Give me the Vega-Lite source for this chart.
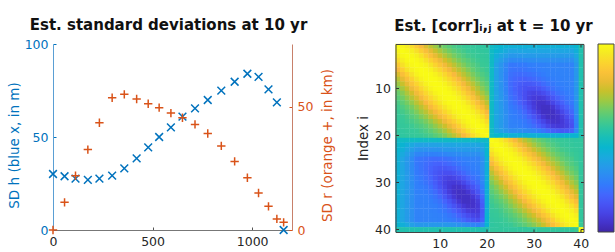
{
"$schema":"https://vega.github.io/schema/vega-lite/v6.json",
"background":"white",
"padding":{"left":7,"top":18,"right":0,"bottom":0},
"spacing":22.5,
"config":{"font":"DejaVu Sans","view":{"stroke":null},"axis":{"labelFontSize":12.5,"titleFontSize":13.5,"titleFontWeight":"normal","grid":false,"tickSize":-3,"labelPadding":8},"title":{"fontSize":15,"fontWeight":"bold","color":"#111"}},
"datasets":{
"sd":[{"x":0,"h":30.1,"r":0},{"x":58,"h":28.9,"r":11.2},{"x":113,"h":27.6,"r":22.0},{"x":175,"h":26.9,"r":32.6},{"x":233,"h":27.6,"r":43.5},{"x":297,"h":29.2,"r":53.6},{"x":358,"h":33.1,"r":55.0},{"x":420,"h":38.5,"r":53.1},{"x":478,"h":44.4,"r":51.2},{"x":533,"h":50.0,"r":49.6},{"x":592,"h":55.2,"r":47.4},{"x":650,"h":61.0,"r":45.5},{"x":713,"h":65.4,"r":42.8},{"x":777,"h":69.9,"r":39.1},{"x":845,"h":74.9,"r":34.1},{"x":912,"h":79.7,"r":27.8},{"x":976,"h":84.0,"r":21.2},{"x":1032,"h":82.3,"r":15.0},{"x":1082,"h":75.6,"r":9.6},{"x":1124,"h":68.6,"r":4.5},{"x":1158,"h":0,"r":3.1}],
"corr":[
{"i":1,"j":1,"c":1},{"i":1,"j":2,"c":0.97},{"i":1,"j":3,"c":0.92},{"i":1,"j":4,"c":0.84},{"i":1,"j":5,"c":0.75},{"i":1,"j":6,"c":0.65},{"i":1,"j":7,"c":0.56},{"i":1,"j":8,"c":0.47},{"i":1,"j":9,"c":0.40},{"i":1,"j":10,"c":0.33},{"i":1,"j":11,"c":0.28},{"i":1,"j":12,"c":0.24},{"i":1,"j":13,"c":0.20},{"i":1,"j":14,"c":0.17},{"i":1,"j":15,"c":0.15},{"i":1,"j":16,"c":0.14},{"i":1,"j":17,"c":0.13},{"i":1,"j":18,"c":0.12},{"i":1,"j":19,"c":0.11},{"i":1,"j":20,"c":0.11},{"i":1,"j":21,"c":-0.05},{"i":1,"j":22,"c":-0.08},{"i":1,"j":23,"c":-0.11},{"i":1,"j":24,"c":-0.13},{"i":1,"j":25,"c":-0.15},{"i":1,"j":26,"c":-0.15},{"i":1,"j":27,"c":-0.15},{"i":1,"j":28,"c":-0.15},{"i":1,"j":29,"c":-0.15},{"i":1,"j":30,"c":-0.15},{"i":1,"j":31,"c":-0.15},{"i":1,"j":32,"c":-0.15},{"i":1,"j":33,"c":-0.15},{"i":1,"j":34,"c":-0.15},{"i":1,"j":35,"c":-0.15},{"i":1,"j":36,"c":-0.15},{"i":1,"j":37,"c":-0.15},{"i":1,"j":38,"c":-0.15},{"i":1,"j":39,"c":-0.11},{"i":1,"j":40,"c":0.05},
{"i":2,"j":1,"c":0.97},{"i":2,"j":2,"c":1},{"i":2,"j":3,"c":0.98},{"i":2,"j":4,"c":0.93},{"i":2,"j":5,"c":0.86},{"i":2,"j":6,"c":0.77},{"i":2,"j":7,"c":0.68},{"i":2,"j":8,"c":0.59},{"i":2,"j":9,"c":0.50},{"i":2,"j":10,"c":0.42},{"i":2,"j":11,"c":0.35},{"i":2,"j":12,"c":0.30},{"i":2,"j":13,"c":0.25},{"i":2,"j":14,"c":0.21},{"i":2,"j":15,"c":0.18},{"i":2,"j":16,"c":0.15},{"i":2,"j":17,"c":0.14},{"i":2,"j":18,"c":0.13},{"i":2,"j":19,"c":0.12},{"i":2,"j":20,"c":0.11},{"i":2,"j":21,"c":-0.05},{"i":2,"j":22,"c":-0.12},{"i":2,"j":23,"c":-0.16},{"i":2,"j":24,"c":-0.20},{"i":2,"j":25,"c":-0.24},{"i":2,"j":26,"c":-0.24},{"i":2,"j":27,"c":-0.23},{"i":2,"j":28,"c":-0.23},{"i":2,"j":29,"c":-0.23},{"i":2,"j":30,"c":-0.23},{"i":2,"j":31,"c":-0.23},{"i":2,"j":32,"c":-0.23},{"i":2,"j":33,"c":-0.23},{"i":2,"j":34,"c":-0.23},{"i":2,"j":35,"c":-0.23},{"i":2,"j":36,"c":-0.23},{"i":2,"j":37,"c":-0.23},{"i":2,"j":38,"c":-0.23},{"i":2,"j":39,"c":-0.16},{"i":2,"j":40,"c":0.05},
{"i":3,"j":1,"c":0.92},{"i":3,"j":2,"c":0.98},{"i":3,"j":3,"c":1},{"i":3,"j":4,"c":0.98},{"i":3,"j":5,"c":0.94},{"i":3,"j":6,"c":0.87},{"i":3,"j":7,"c":0.78},{"i":3,"j":8,"c":0.69},{"i":3,"j":9,"c":0.60},{"i":3,"j":10,"c":0.51},{"i":3,"j":11,"c":0.44},{"i":3,"j":12,"c":0.37},{"i":3,"j":13,"c":0.31},{"i":3,"j":14,"c":0.26},{"i":3,"j":15,"c":0.22},{"i":3,"j":16,"c":0.18},{"i":3,"j":17,"c":0.16},{"i":3,"j":18,"c":0.14},{"i":3,"j":19,"c":0.13},{"i":3,"j":20,"c":0.12},{"i":3,"j":21,"c":-0.05},{"i":3,"j":22,"c":-0.17},{"i":3,"j":23,"c":-0.22},{"i":3,"j":24,"c":-0.27},{"i":3,"j":25,"c":-0.32},{"i":3,"j":26,"c":-0.32},{"i":3,"j":27,"c":-0.32},{"i":3,"j":28,"c":-0.31},{"i":3,"j":29,"c":-0.31},{"i":3,"j":30,"c":-0.30},{"i":3,"j":31,"c":-0.30},{"i":3,"j":32,"c":-0.30},{"i":3,"j":33,"c":-0.30},{"i":3,"j":34,"c":-0.30},{"i":3,"j":35,"c":-0.30},{"i":3,"j":36,"c":-0.30},{"i":3,"j":37,"c":-0.30},{"i":3,"j":38,"c":-0.30},{"i":3,"j":39,"c":-0.21},{"i":3,"j":40,"c":0.05},
{"i":4,"j":1,"c":0.84},{"i":4,"j":2,"c":0.93},{"i":4,"j":3,"c":0.98},{"i":4,"j":4,"c":1},{"i":4,"j":5,"c":0.98},{"i":4,"j":6,"c":0.94},{"i":4,"j":7,"c":0.87},{"i":4,"j":8,"c":0.79},{"i":4,"j":9,"c":0.71},{"i":4,"j":10,"c":0.62},{"i":4,"j":11,"c":0.53},{"i":4,"j":12,"c":0.46},{"i":4,"j":13,"c":0.38},{"i":4,"j":14,"c":0.32},{"i":4,"j":15,"c":0.27},{"i":4,"j":16,"c":0.23},{"i":4,"j":17,"c":0.19},{"i":4,"j":18,"c":0.16},{"i":4,"j":19,"c":0.14},{"i":4,"j":20,"c":0.13},{"i":4,"j":21,"c":-0.05},{"i":4,"j":22,"c":-0.21},{"i":4,"j":23,"c":-0.28},{"i":4,"j":24,"c":-0.35},{"i":4,"j":25,"c":-0.41},{"i":4,"j":26,"c":-0.41},{"i":4,"j":27,"c":-0.41},{"i":4,"j":28,"c":-0.40},{"i":4,"j":29,"c":-0.39},{"i":4,"j":30,"c":-0.39},{"i":4,"j":31,"c":-0.38},{"i":4,"j":32,"c":-0.38},{"i":4,"j":33,"c":-0.38},{"i":4,"j":34,"c":-0.38},{"i":4,"j":35,"c":-0.38},{"i":4,"j":36,"c":-0.38},{"i":4,"j":37,"c":-0.38},{"i":4,"j":38,"c":-0.38},{"i":4,"j":39,"c":-0.27},{"i":4,"j":40,"c":0.05},
{"i":5,"j":1,"c":0.75},{"i":5,"j":2,"c":0.86},{"i":5,"j":3,"c":0.94},{"i":5,"j":4,"c":0.98},{"i":5,"j":5,"c":1},{"i":5,"j":6,"c":0.98},{"i":5,"j":7,"c":0.95},{"i":5,"j":8,"c":0.88},{"i":5,"j":9,"c":0.80},{"i":5,"j":10,"c":0.72},{"i":5,"j":11,"c":0.63},{"i":5,"j":12,"c":0.55},{"i":5,"j":13,"c":0.47},{"i":5,"j":14,"c":0.39},{"i":5,"j":15,"c":0.33},{"i":5,"j":16,"c":0.27},{"i":5,"j":17,"c":0.23},{"i":5,"j":18,"c":0.19},{"i":5,"j":19,"c":0.15},{"i":5,"j":20,"c":0.14},{"i":5,"j":21,"c":-0.05},{"i":5,"j":22,"c":-0.26},{"i":5,"j":23,"c":-0.34},{"i":5,"j":24,"c":-0.43},{"i":5,"j":25,"c":-0.51},{"i":5,"j":26,"c":-0.51},{"i":5,"j":27,"c":-0.50},{"i":5,"j":28,"c":-0.50},{"i":5,"j":29,"c":-0.48},{"i":5,"j":30,"c":-0.47},{"i":5,"j":31,"c":-0.47},{"i":5,"j":32,"c":-0.46},{"i":5,"j":33,"c":-0.45},{"i":5,"j":34,"c":-0.45},{"i":5,"j":35,"c":-0.45},{"i":5,"j":36,"c":-0.45},{"i":5,"j":37,"c":-0.45},{"i":5,"j":38,"c":-0.45},{"i":5,"j":39,"c":-0.32},{"i":5,"j":40,"c":0.05},
{"i":6,"j":1,"c":0.65},{"i":6,"j":2,"c":0.77},{"i":6,"j":3,"c":0.87},{"i":6,"j":4,"c":0.94},{"i":6,"j":5,"c":0.98},{"i":6,"j":6,"c":1},{"i":6,"j":7,"c":0.99},{"i":6,"j":8,"c":0.95},{"i":6,"j":9,"c":0.88},{"i":6,"j":10,"c":0.81},{"i":6,"j":11,"c":0.73},{"i":6,"j":12,"c":0.64},{"i":6,"j":13,"c":0.55},{"i":6,"j":14,"c":0.47},{"i":6,"j":15,"c":0.40},{"i":6,"j":16,"c":0.33},{"i":6,"j":17,"c":0.27},{"i":6,"j":18,"c":0.22},{"i":6,"j":19,"c":0.18},{"i":6,"j":20,"c":0.15},{"i":6,"j":21,"c":-0.05},{"i":6,"j":22,"c":-0.26},{"i":6,"j":23,"c":-0.35},{"i":6,"j":24,"c":-0.44},{"i":6,"j":25,"c":-0.53},{"i":6,"j":26,"c":-0.54},{"i":6,"j":27,"c":-0.54},{"i":6,"j":28,"c":-0.53},{"i":6,"j":29,"c":-0.51},{"i":6,"j":30,"c":-0.50},{"i":6,"j":31,"c":-0.48},{"i":6,"j":32,"c":-0.47},{"i":6,"j":33,"c":-0.46},{"i":6,"j":34,"c":-0.46},{"i":6,"j":35,"c":-0.45},{"i":6,"j":36,"c":-0.45},{"i":6,"j":37,"c":-0.45},{"i":6,"j":38,"c":-0.45},{"i":6,"j":39,"c":-0.32},{"i":6,"j":40,"c":0.05},
{"i":7,"j":1,"c":0.56},{"i":7,"j":2,"c":0.68},{"i":7,"j":3,"c":0.78},{"i":7,"j":4,"c":0.87},{"i":7,"j":5,"c":0.95},{"i":7,"j":6,"c":0.99},{"i":7,"j":7,"c":1},{"i":7,"j":8,"c":0.99},{"i":7,"j":9,"c":0.95},{"i":7,"j":10,"c":0.89},{"i":7,"j":11,"c":0.82},{"i":7,"j":12,"c":0.74},{"i":7,"j":13,"c":0.65},{"i":7,"j":14,"c":0.56},{"i":7,"j":15,"c":0.47},{"i":7,"j":16,"c":0.39},{"i":7,"j":17,"c":0.32},{"i":7,"j":18,"c":0.26},{"i":7,"j":19,"c":0.21},{"i":7,"j":20,"c":0.17},{"i":7,"j":21,"c":-0.05},{"i":7,"j":22,"c":-0.26},{"i":7,"j":23,"c":-0.36},{"i":7,"j":24,"c":-0.46},{"i":7,"j":25,"c":-0.55},{"i":7,"j":26,"c":-0.57},{"i":7,"j":27,"c":-0.58},{"i":7,"j":28,"c":-0.57},{"i":7,"j":29,"c":-0.56},{"i":7,"j":30,"c":-0.54},{"i":7,"j":31,"c":-0.51},{"i":7,"j":32,"c":-0.49},{"i":7,"j":33,"c":-0.47},{"i":7,"j":34,"c":-0.46},{"i":7,"j":35,"c":-0.46},{"i":7,"j":36,"c":-0.45},{"i":7,"j":37,"c":-0.45},{"i":7,"j":38,"c":-0.45},{"i":7,"j":39,"c":-0.32},{"i":7,"j":40,"c":0.05},
{"i":8,"j":1,"c":0.47},{"i":8,"j":2,"c":0.59},{"i":8,"j":3,"c":0.69},{"i":8,"j":4,"c":0.79},{"i":8,"j":5,"c":0.88},{"i":8,"j":6,"c":0.95},{"i":8,"j":7,"c":0.99},{"i":8,"j":8,"c":1},{"i":8,"j":9,"c":0.99},{"i":8,"j":10,"c":0.96},{"i":8,"j":11,"c":0.89},{"i":8,"j":12,"c":0.82},{"i":8,"j":13,"c":0.74},{"i":8,"j":14,"c":0.65},{"i":8,"j":15,"c":0.56},{"i":8,"j":16,"c":0.47},{"i":8,"j":17,"c":0.38},{"i":8,"j":18,"c":0.31},{"i":8,"j":19,"c":0.25},{"i":8,"j":20,"c":0.20},{"i":8,"j":21,"c":-0.05},{"i":8,"j":22,"c":-0.26},{"i":8,"j":23,"c":-0.36},{"i":8,"j":24,"c":-0.46},{"i":8,"j":25,"c":-0.57},{"i":8,"j":26,"c":-0.60},{"i":8,"j":27,"c":-0.62},{"i":8,"j":28,"c":-0.63},{"i":8,"j":29,"c":-0.61},{"i":8,"j":30,"c":-0.59},{"i":8,"j":31,"c":-0.56},{"i":8,"j":32,"c":-0.53},{"i":8,"j":33,"c":-0.50},{"i":8,"j":34,"c":-0.48},{"i":8,"j":35,"c":-0.47},{"i":8,"j":36,"c":-0.46},{"i":8,"j":37,"c":-0.45},{"i":8,"j":38,"c":-0.45},{"i":8,"j":39,"c":-0.32},{"i":8,"j":40,"c":0.05},
{"i":9,"j":1,"c":0.40},{"i":9,"j":2,"c":0.50},{"i":9,"j":3,"c":0.60},{"i":9,"j":4,"c":0.71},{"i":9,"j":5,"c":0.80},{"i":9,"j":6,"c":0.88},{"i":9,"j":7,"c":0.95},{"i":9,"j":8,"c":0.99},{"i":9,"j":9,"c":1},{"i":9,"j":10,"c":0.99},{"i":9,"j":11,"c":0.96},{"i":9,"j":12,"c":0.89},{"i":9,"j":13,"c":0.82},{"i":9,"j":14,"c":0.74},{"i":9,"j":15,"c":0.64},{"i":9,"j":16,"c":0.55},{"i":9,"j":17,"c":0.46},{"i":9,"j":18,"c":0.37},{"i":9,"j":19,"c":0.30},{"i":9,"j":20,"c":0.24},{"i":9,"j":21,"c":-0.05},{"i":9,"j":22,"c":-0.26},{"i":9,"j":23,"c":-0.35},{"i":9,"j":24,"c":-0.46},{"i":9,"j":25,"c":-0.58},{"i":9,"j":26,"c":-0.62},{"i":9,"j":27,"c":-0.66},{"i":9,"j":28,"c":-0.68},{"i":9,"j":29,"c":-0.68},{"i":9,"j":30,"c":-0.66},{"i":9,"j":31,"c":-0.63},{"i":9,"j":32,"c":-0.58},{"i":9,"j":33,"c":-0.54},{"i":9,"j":34,"c":-0.51},{"i":9,"j":35,"c":-0.48},{"i":9,"j":36,"c":-0.47},{"i":9,"j":37,"c":-0.46},{"i":9,"j":38,"c":-0.45},{"i":9,"j":39,"c":-0.32},{"i":9,"j":40,"c":0.05},
{"i":10,"j":1,"c":0.33},{"i":10,"j":2,"c":0.42},{"i":10,"j":3,"c":0.51},{"i":10,"j":4,"c":0.62},{"i":10,"j":5,"c":0.72},{"i":10,"j":6,"c":0.81},{"i":10,"j":7,"c":0.89},{"i":10,"j":8,"c":0.96},{"i":10,"j":9,"c":0.99},{"i":10,"j":10,"c":1},{"i":10,"j":11,"c":0.99},{"i":10,"j":12,"c":0.96},{"i":10,"j":13,"c":0.89},{"i":10,"j":14,"c":0.82},{"i":10,"j":15,"c":0.73},{"i":10,"j":16,"c":0.63},{"i":10,"j":17,"c":0.53},{"i":10,"j":18,"c":0.44},{"i":10,"j":19,"c":0.35},{"i":10,"j":20,"c":0.28},{"i":10,"j":21,"c":-0.05},{"i":10,"j":22,"c":-0.25},{"i":10,"j":23,"c":-0.35},{"i":10,"j":24,"c":-0.45},{"i":10,"j":25,"c":-0.57},{"i":10,"j":26,"c":-0.63},{"i":10,"j":27,"c":-0.68},{"i":10,"j":28,"c":-0.72},{"i":10,"j":29,"c":-0.74},{"i":10,"j":30,"c":-0.74},{"i":10,"j":31,"c":-0.71},{"i":10,"j":32,"c":-0.66},{"i":10,"j":33,"c":-0.60},{"i":10,"j":34,"c":-0.55},{"i":10,"j":35,"c":-0.51},{"i":10,"j":36,"c":-0.49},{"i":10,"j":37,"c":-0.47},{"i":10,"j":38,"c":-0.46},{"i":10,"j":39,"c":-0.32},{"i":10,"j":40,"c":0.05},
{"i":11,"j":1,"c":0.28},{"i":11,"j":2,"c":0.35},{"i":11,"j":3,"c":0.44},{"i":11,"j":4,"c":0.53},{"i":11,"j":5,"c":0.63},{"i":11,"j":6,"c":0.73},{"i":11,"j":7,"c":0.82},{"i":11,"j":8,"c":0.89},{"i":11,"j":9,"c":0.96},{"i":11,"j":10,"c":0.99},{"i":11,"j":11,"c":1},{"i":11,"j":12,"c":0.99},{"i":11,"j":13,"c":0.96},{"i":11,"j":14,"c":0.89},{"i":11,"j":15,"c":0.81},{"i":11,"j":16,"c":0.72},{"i":11,"j":17,"c":0.62},{"i":11,"j":18,"c":0.51},{"i":11,"j":19,"c":0.42},{"i":11,"j":20,"c":0.33},{"i":11,"j":21,"c":-0.05},{"i":11,"j":22,"c":-0.24},{"i":11,"j":23,"c":-0.33},{"i":11,"j":24,"c":-0.44},{"i":11,"j":25,"c":-0.56},{"i":11,"j":26,"c":-0.61},{"i":11,"j":27,"c":-0.68},{"i":11,"j":28,"c":-0.74},{"i":11,"j":29,"c":-0.79},{"i":11,"j":30,"c":-0.81},{"i":11,"j":31,"c":-0.79},{"i":11,"j":32,"c":-0.75},{"i":11,"j":33,"c":-0.69},{"i":11,"j":34,"c":-0.62},{"i":11,"j":35,"c":-0.56},{"i":11,"j":36,"c":-0.52},{"i":11,"j":37,"c":-0.49},{"i":11,"j":38,"c":-0.47},{"i":11,"j":39,"c":-0.32},{"i":11,"j":40,"c":0.05},
{"i":12,"j":1,"c":0.24},{"i":12,"j":2,"c":0.30},{"i":12,"j":3,"c":0.37},{"i":12,"j":4,"c":0.46},{"i":12,"j":5,"c":0.55},{"i":12,"j":6,"c":0.64},{"i":12,"j":7,"c":0.74},{"i":12,"j":8,"c":0.82},{"i":12,"j":9,"c":0.89},{"i":12,"j":10,"c":0.96},{"i":12,"j":11,"c":0.99},{"i":12,"j":12,"c":1},{"i":12,"j":13,"c":0.99},{"i":12,"j":14,"c":0.95},{"i":12,"j":15,"c":0.88},{"i":12,"j":16,"c":0.80},{"i":12,"j":17,"c":0.71},{"i":12,"j":18,"c":0.60},{"i":12,"j":19,"c":0.50},{"i":12,"j":20,"c":0.40},{"i":12,"j":21,"c":-0.05},{"i":12,"j":22,"c":-0.24},{"i":12,"j":23,"c":-0.32},{"i":12,"j":24,"c":-0.42},{"i":12,"j":25,"c":-0.54},{"i":12,"j":26,"c":-0.59},{"i":12,"j":27,"c":-0.66},{"i":12,"j":28,"c":-0.74},{"i":12,"j":29,"c":-0.81},{"i":12,"j":30,"c":-0.85},{"i":12,"j":31,"c":-0.86},{"i":12,"j":32,"c":-0.84},{"i":12,"j":33,"c":-0.78},{"i":12,"j":34,"c":-0.70},{"i":12,"j":35,"c":-0.63},{"i":12,"j":36,"c":-0.57},{"i":12,"j":37,"c":-0.52},{"i":12,"j":38,"c":-0.49},{"i":12,"j":39,"c":-0.33},{"i":12,"j":40,"c":0.05},
{"i":13,"j":1,"c":0.20},{"i":13,"j":2,"c":0.25},{"i":13,"j":3,"c":0.31},{"i":13,"j":4,"c":0.38},{"i":13,"j":5,"c":0.47},{"i":13,"j":6,"c":0.55},{"i":13,"j":7,"c":0.65},{"i":13,"j":8,"c":0.74},{"i":13,"j":9,"c":0.82},{"i":13,"j":10,"c":0.89},{"i":13,"j":11,"c":0.96},{"i":13,"j":12,"c":0.99},{"i":13,"j":13,"c":1},{"i":13,"j":14,"c":0.99},{"i":13,"j":15,"c":0.95},{"i":13,"j":16,"c":0.88},{"i":13,"j":17,"c":0.79},{"i":13,"j":18,"c":0.69},{"i":13,"j":19,"c":0.59},{"i":13,"j":20,"c":0.47},{"i":13,"j":21,"c":-0.05},{"i":13,"j":22,"c":-0.23},{"i":13,"j":23,"c":-0.32},{"i":13,"j":24,"c":-0.41},{"i":13,"j":25,"c":-0.51},{"i":13,"j":26,"c":-0.56},{"i":13,"j":27,"c":-0.63},{"i":13,"j":28,"c":-0.71},{"i":13,"j":29,"c":-0.79},{"i":13,"j":30,"c":-0.86},{"i":13,"j":31,"c":-0.90},{"i":13,"j":32,"c":-0.90},{"i":13,"j":33,"c":-0.87},{"i":13,"j":34,"c":-0.79},{"i":13,"j":35,"c":-0.71},{"i":13,"j":36,"c":-0.63},{"i":13,"j":37,"c":-0.56},{"i":13,"j":38,"c":-0.51},{"i":13,"j":39,"c":-0.34},{"i":13,"j":40,"c":0.05},
{"i":14,"j":1,"c":0.17},{"i":14,"j":2,"c":0.21},{"i":14,"j":3,"c":0.26},{"i":14,"j":4,"c":0.32},{"i":14,"j":5,"c":0.39},{"i":14,"j":6,"c":0.47},{"i":14,"j":7,"c":0.56},{"i":14,"j":8,"c":0.65},{"i":14,"j":9,"c":0.74},{"i":14,"j":10,"c":0.82},{"i":14,"j":11,"c":0.89},{"i":14,"j":12,"c":0.95},{"i":14,"j":13,"c":0.99},{"i":14,"j":14,"c":1},{"i":14,"j":15,"c":0.98},{"i":14,"j":16,"c":0.95},{"i":14,"j":17,"c":0.87},{"i":14,"j":18,"c":0.78},{"i":14,"j":19,"c":0.68},{"i":14,"j":20,"c":0.56},{"i":14,"j":21,"c":-0.05},{"i":14,"j":22,"c":-0.23},{"i":14,"j":23,"c":-0.31},{"i":14,"j":24,"c":-0.40},{"i":14,"j":25,"c":-0.49},{"i":14,"j":26,"c":-0.53},{"i":14,"j":27,"c":-0.58},{"i":14,"j":28,"c":-0.66},{"i":14,"j":29,"c":-0.75},{"i":14,"j":30,"c":-0.84},{"i":14,"j":31,"c":-0.90},{"i":14,"j":32,"c":-0.92},{"i":14,"j":33,"c":-0.92},{"i":14,"j":34,"c":-0.88},{"i":14,"j":35,"c":-0.79},{"i":14,"j":36,"c":-0.70},{"i":14,"j":37,"c":-0.62},{"i":14,"j":38,"c":-0.55},{"i":14,"j":39,"c":-0.36},{"i":14,"j":40,"c":0.05},
{"i":15,"j":1,"c":0.15},{"i":15,"j":2,"c":0.18},{"i":15,"j":3,"c":0.22},{"i":15,"j":4,"c":0.27},{"i":15,"j":5,"c":0.33},{"i":15,"j":6,"c":0.40},{"i":15,"j":7,"c":0.47},{"i":15,"j":8,"c":0.56},{"i":15,"j":9,"c":0.64},{"i":15,"j":10,"c":0.73},{"i":15,"j":11,"c":0.81},{"i":15,"j":12,"c":0.88},{"i":15,"j":13,"c":0.95},{"i":15,"j":14,"c":0.98},{"i":15,"j":15,"c":1},{"i":15,"j":16,"c":0.98},{"i":15,"j":17,"c":0.94},{"i":15,"j":18,"c":0.87},{"i":15,"j":19,"c":0.77},{"i":15,"j":20,"c":0.65},{"i":15,"j":21,"c":-0.05},{"i":15,"j":22,"c":-0.23},{"i":15,"j":23,"c":-0.30},{"i":15,"j":24,"c":-0.39},{"i":15,"j":25,"c":-0.47},{"i":15,"j":26,"c":-0.50},{"i":15,"j":27,"c":-0.54},{"i":15,"j":28,"c":-0.60},{"i":15,"j":29,"c":-0.69},{"i":15,"j":30,"c":-0.78},{"i":15,"j":31,"c":-0.87},{"i":15,"j":32,"c":-0.92},{"i":15,"j":33,"c":-0.92},{"i":15,"j":34,"c":-0.92},{"i":15,"j":35,"c":-0.87},{"i":15,"j":36,"c":-0.78},{"i":15,"j":37,"c":-0.69},{"i":15,"j":38,"c":-0.60},{"i":15,"j":39,"c":-0.38},{"i":15,"j":40,"c":0.05},
{"i":16,"j":1,"c":0.14},{"i":16,"j":2,"c":0.15},{"i":16,"j":3,"c":0.18},{"i":16,"j":4,"c":0.23},{"i":16,"j":5,"c":0.27},{"i":16,"j":6,"c":0.33},{"i":16,"j":7,"c":0.39},{"i":16,"j":8,"c":0.47},{"i":16,"j":9,"c":0.55},{"i":16,"j":10,"c":0.63},{"i":16,"j":11,"c":0.72},{"i":16,"j":12,"c":0.80},{"i":16,"j":13,"c":0.88},{"i":16,"j":14,"c":0.95},{"i":16,"j":15,"c":0.98},{"i":16,"j":16,"c":1},{"i":16,"j":17,"c":0.98},{"i":16,"j":18,"c":0.94},{"i":16,"j":19,"c":0.86},{"i":16,"j":20,"c":0.75},{"i":16,"j":21,"c":-0.05},{"i":16,"j":22,"c":-0.23},{"i":16,"j":23,"c":-0.30},{"i":16,"j":24,"c":-0.38},{"i":16,"j":25,"c":-0.46},{"i":16,"j":26,"c":-0.48},{"i":16,"j":27,"c":-0.51},{"i":16,"j":28,"c":-0.55},{"i":16,"j":29,"c":-0.62},{"i":16,"j":30,"c":-0.70},{"i":16,"j":31,"c":-0.79},{"i":16,"j":32,"c":-0.88},{"i":16,"j":33,"c":-0.92},{"i":16,"j":34,"c":-0.92},{"i":16,"j":35,"c":-0.90},{"i":16,"j":36,"c":-0.84},{"i":16,"j":37,"c":-0.75},{"i":16,"j":38,"c":-0.66},{"i":16,"j":39,"c":-0.41},{"i":16,"j":40,"c":0.05},
{"i":17,"j":1,"c":0.13},{"i":17,"j":2,"c":0.14},{"i":17,"j":3,"c":0.16},{"i":17,"j":4,"c":0.19},{"i":17,"j":5,"c":0.23},{"i":17,"j":6,"c":0.27},{"i":17,"j":7,"c":0.32},{"i":17,"j":8,"c":0.38},{"i":17,"j":9,"c":0.46},{"i":17,"j":10,"c":0.53},{"i":17,"j":11,"c":0.62},{"i":17,"j":12,"c":0.71},{"i":17,"j":13,"c":0.79},{"i":17,"j":14,"c":0.87},{"i":17,"j":15,"c":0.94},{"i":17,"j":16,"c":0.98},{"i":17,"j":17,"c":1},{"i":17,"j":18,"c":0.98},{"i":17,"j":19,"c":0.93},{"i":17,"j":20,"c":0.84},{"i":17,"j":21,"c":-0.05},{"i":17,"j":22,"c":-0.23},{"i":17,"j":23,"c":-0.30},{"i":17,"j":24,"c":-0.38},{"i":17,"j":25,"c":-0.45},{"i":17,"j":26,"c":-0.47},{"i":17,"j":27,"c":-0.48},{"i":17,"j":28,"c":-0.51},{"i":17,"j":29,"c":-0.56},{"i":17,"j":30,"c":-0.63},{"i":17,"j":31,"c":-0.71},{"i":17,"j":32,"c":-0.79},{"i":17,"j":33,"c":-0.87},{"i":17,"j":34,"c":-0.90},{"i":17,"j":35,"c":-0.90},{"i":17,"j":36,"c":-0.86},{"i":17,"j":37,"c":-0.79},{"i":17,"j":38,"c":-0.71},{"i":17,"j":39,"c":-0.44},{"i":17,"j":40,"c":0.05},
{"i":18,"j":1,"c":0.12},{"i":18,"j":2,"c":0.13},{"i":18,"j":3,"c":0.14},{"i":18,"j":4,"c":0.16},{"i":18,"j":5,"c":0.19},{"i":18,"j":6,"c":0.22},{"i":18,"j":7,"c":0.26},{"i":18,"j":8,"c":0.31},{"i":18,"j":9,"c":0.37},{"i":18,"j":10,"c":0.44},{"i":18,"j":11,"c":0.51},{"i":18,"j":12,"c":0.60},{"i":18,"j":13,"c":0.69},{"i":18,"j":14,"c":0.78},{"i":18,"j":15,"c":0.87},{"i":18,"j":16,"c":0.94},{"i":18,"j":17,"c":0.98},{"i":18,"j":18,"c":1},{"i":18,"j":19,"c":0.98},{"i":18,"j":20,"c":0.92},{"i":18,"j":21,"c":-0.05},{"i":18,"j":22,"c":-0.23},{"i":18,"j":23,"c":-0.30},{"i":18,"j":24,"c":-0.38},{"i":18,"j":25,"c":-0.45},{"i":18,"j":26,"c":-0.45},{"i":18,"j":27,"c":-0.47},{"i":18,"j":28,"c":-0.49},{"i":18,"j":29,"c":-0.52},{"i":18,"j":30,"c":-0.57},{"i":18,"j":31,"c":-0.63},{"i":18,"j":32,"c":-0.70},{"i":18,"j":33,"c":-0.78},{"i":18,"j":34,"c":-0.84},{"i":18,"j":35,"c":-0.86},{"i":18,"j":36,"c":-0.85},{"i":18,"j":37,"c":-0.81},{"i":18,"j":38,"c":-0.74},{"i":18,"j":39,"c":-0.46},{"i":18,"j":40,"c":0.05},
{"i":19,"j":1,"c":0.11},{"i":19,"j":2,"c":0.12},{"i":19,"j":3,"c":0.13},{"i":19,"j":4,"c":0.14},{"i":19,"j":5,"c":0.15},{"i":19,"j":6,"c":0.18},{"i":19,"j":7,"c":0.21},{"i":19,"j":8,"c":0.25},{"i":19,"j":9,"c":0.30},{"i":19,"j":10,"c":0.35},{"i":19,"j":11,"c":0.42},{"i":19,"j":12,"c":0.50},{"i":19,"j":13,"c":0.59},{"i":19,"j":14,"c":0.68},{"i":19,"j":15,"c":0.77},{"i":19,"j":16,"c":0.86},{"i":19,"j":17,"c":0.93},{"i":19,"j":18,"c":0.98},{"i":19,"j":19,"c":1},{"i":19,"j":20,"c":0.97},{"i":19,"j":21,"c":-0.05},{"i":19,"j":22,"c":-0.20},{"i":19,"j":23,"c":-0.26},{"i":19,"j":24,"c":-0.32},{"i":19,"j":25,"c":-0.38},{"i":19,"j":26,"c":-0.38},{"i":19,"j":27,"c":-0.38},{"i":19,"j":28,"c":-0.40},{"i":19,"j":29,"c":-0.42},{"i":19,"j":30,"c":-0.44},{"i":19,"j":31,"c":-0.48},{"i":19,"j":32,"c":-0.53},{"i":19,"j":33,"c":-0.59},{"i":19,"j":34,"c":-0.64},{"i":19,"j":35,"c":-0.67},{"i":19,"j":36,"c":-0.69},{"i":19,"j":37,"c":-0.67},{"i":19,"j":38,"c":-0.63},{"i":19,"j":39,"c":-0.41},{"i":19,"j":40,"c":0.05},
{"i":20,"j":1,"c":0.11},{"i":20,"j":2,"c":0.11},{"i":20,"j":3,"c":0.12},{"i":20,"j":4,"c":0.13},{"i":20,"j":5,"c":0.14},{"i":20,"j":6,"c":0.15},{"i":20,"j":7,"c":0.17},{"i":20,"j":8,"c":0.20},{"i":20,"j":9,"c":0.24},{"i":20,"j":10,"c":0.28},{"i":20,"j":11,"c":0.33},{"i":20,"j":12,"c":0.40},{"i":20,"j":13,"c":0.47},{"i":20,"j":14,"c":0.56},{"i":20,"j":15,"c":0.65},{"i":20,"j":16,"c":0.75},{"i":20,"j":17,"c":0.84},{"i":20,"j":18,"c":0.92},{"i":20,"j":19,"c":0.97},{"i":20,"j":20,"c":1},{"i":20,"j":21,"c":-0.05},{"i":20,"j":22,"c":-0.10},{"i":20,"j":23,"c":-0.10},{"i":20,"j":24,"c":-0.10},{"i":20,"j":25,"c":-0.15},{"i":20,"j":26,"c":-0.15},{"i":20,"j":27,"c":-0.15},{"i":20,"j":28,"c":-0.15},{"i":20,"j":29,"c":-0.15},{"i":20,"j":30,"c":-0.15},{"i":20,"j":31,"c":-0.15},{"i":20,"j":32,"c":-0.15},{"i":20,"j":33,"c":-0.15},{"i":20,"j":34,"c":-0.15},{"i":20,"j":35,"c":-0.15},{"i":20,"j":36,"c":-0.15},{"i":20,"j":37,"c":-0.12},{"i":20,"j":38,"c":-0.12},{"i":20,"j":39,"c":-0.12},{"i":20,"j":40,"c":0.05},
{"i":21,"j":1,"c":-0.05},{"i":21,"j":2,"c":-0.05},{"i":21,"j":3,"c":-0.05},{"i":21,"j":4,"c":-0.05},{"i":21,"j":5,"c":-0.05},{"i":21,"j":6,"c":-0.05},{"i":21,"j":7,"c":-0.05},{"i":21,"j":8,"c":-0.05},{"i":21,"j":9,"c":-0.05},{"i":21,"j":10,"c":-0.05},{"i":21,"j":11,"c":-0.05},{"i":21,"j":12,"c":-0.05},{"i":21,"j":13,"c":-0.05},{"i":21,"j":14,"c":-0.05},{"i":21,"j":15,"c":-0.05},{"i":21,"j":16,"c":-0.05},{"i":21,"j":17,"c":-0.05},{"i":21,"j":18,"c":-0.05},{"i":21,"j":19,"c":-0.05},{"i":21,"j":20,"c":-0.05},{"i":21,"j":21,"c":1},{"i":21,"j":22,"c":0.97},{"i":21,"j":23,"c":0.92},{"i":21,"j":24,"c":0.84},{"i":21,"j":25,"c":0.75},{"i":21,"j":26,"c":0.65},{"i":21,"j":27,"c":0.56},{"i":21,"j":28,"c":0.47},{"i":21,"j":29,"c":0.40},{"i":21,"j":30,"c":0.33},{"i":21,"j":31,"c":0.28},{"i":21,"j":32,"c":0.24},{"i":21,"j":33,"c":0.20},{"i":21,"j":34,"c":0.17},{"i":21,"j":35,"c":0.15},{"i":21,"j":36,"c":0.14},{"i":21,"j":37,"c":0.13},{"i":21,"j":38,"c":0.12},{"i":21,"j":39,"c":0.11},{"i":21,"j":40,"c":0.12},
{"i":22,"j":1,"c":-0.08},{"i":22,"j":2,"c":-0.12},{"i":22,"j":3,"c":-0.17},{"i":22,"j":4,"c":-0.21},{"i":22,"j":5,"c":-0.26},{"i":22,"j":6,"c":-0.26},{"i":22,"j":7,"c":-0.26},{"i":22,"j":8,"c":-0.26},{"i":22,"j":9,"c":-0.26},{"i":22,"j":10,"c":-0.25},{"i":22,"j":11,"c":-0.24},{"i":22,"j":12,"c":-0.24},{"i":22,"j":13,"c":-0.23},{"i":22,"j":14,"c":-0.23},{"i":22,"j":15,"c":-0.23},{"i":22,"j":16,"c":-0.23},{"i":22,"j":17,"c":-0.23},{"i":22,"j":18,"c":-0.23},{"i":22,"j":19,"c":-0.20},{"i":22,"j":20,"c":-0.10},{"i":22,"j":21,"c":0.97},{"i":22,"j":22,"c":1},{"i":22,"j":23,"c":0.98},{"i":22,"j":24,"c":0.93},{"i":22,"j":25,"c":0.86},{"i":22,"j":26,"c":0.77},{"i":22,"j":27,"c":0.68},{"i":22,"j":28,"c":0.59},{"i":22,"j":29,"c":0.50},{"i":22,"j":30,"c":0.42},{"i":22,"j":31,"c":0.35},{"i":22,"j":32,"c":0.30},{"i":22,"j":33,"c":0.25},{"i":22,"j":34,"c":0.21},{"i":22,"j":35,"c":0.18},{"i":22,"j":36,"c":0.15},{"i":22,"j":37,"c":0.14},{"i":22,"j":38,"c":0.13},{"i":22,"j":39,"c":0.12},{"i":22,"j":40,"c":0.12},
{"i":23,"j":1,"c":-0.11},{"i":23,"j":2,"c":-0.16},{"i":23,"j":3,"c":-0.22},{"i":23,"j":4,"c":-0.28},{"i":23,"j":5,"c":-0.34},{"i":23,"j":6,"c":-0.35},{"i":23,"j":7,"c":-0.36},{"i":23,"j":8,"c":-0.36},{"i":23,"j":9,"c":-0.35},{"i":23,"j":10,"c":-0.35},{"i":23,"j":11,"c":-0.33},{"i":23,"j":12,"c":-0.32},{"i":23,"j":13,"c":-0.32},{"i":23,"j":14,"c":-0.31},{"i":23,"j":15,"c":-0.30},{"i":23,"j":16,"c":-0.30},{"i":23,"j":17,"c":-0.30},{"i":23,"j":18,"c":-0.30},{"i":23,"j":19,"c":-0.26},{"i":23,"j":20,"c":-0.10},{"i":23,"j":21,"c":0.92},{"i":23,"j":22,"c":0.98},{"i":23,"j":23,"c":1},{"i":23,"j":24,"c":0.98},{"i":23,"j":25,"c":0.94},{"i":23,"j":26,"c":0.87},{"i":23,"j":27,"c":0.78},{"i":23,"j":28,"c":0.69},{"i":23,"j":29,"c":0.60},{"i":23,"j":30,"c":0.51},{"i":23,"j":31,"c":0.44},{"i":23,"j":32,"c":0.37},{"i":23,"j":33,"c":0.31},{"i":23,"j":34,"c":0.26},{"i":23,"j":35,"c":0.22},{"i":23,"j":36,"c":0.18},{"i":23,"j":37,"c":0.16},{"i":23,"j":38,"c":0.14},{"i":23,"j":39,"c":0.13},{"i":23,"j":40,"c":0.12},
{"i":24,"j":1,"c":-0.13},{"i":24,"j":2,"c":-0.20},{"i":24,"j":3,"c":-0.27},{"i":24,"j":4,"c":-0.35},{"i":24,"j":5,"c":-0.43},{"i":24,"j":6,"c":-0.44},{"i":24,"j":7,"c":-0.46},{"i":24,"j":8,"c":-0.46},{"i":24,"j":9,"c":-0.46},{"i":24,"j":10,"c":-0.45},{"i":24,"j":11,"c":-0.44},{"i":24,"j":12,"c":-0.42},{"i":24,"j":13,"c":-0.41},{"i":24,"j":14,"c":-0.40},{"i":24,"j":15,"c":-0.39},{"i":24,"j":16,"c":-0.38},{"i":24,"j":17,"c":-0.38},{"i":24,"j":18,"c":-0.38},{"i":24,"j":19,"c":-0.32},{"i":24,"j":20,"c":-0.10},{"i":24,"j":21,"c":0.84},{"i":24,"j":22,"c":0.93},{"i":24,"j":23,"c":0.98},{"i":24,"j":24,"c":1},{"i":24,"j":25,"c":0.98},{"i":24,"j":26,"c":0.94},{"i":24,"j":27,"c":0.87},{"i":24,"j":28,"c":0.79},{"i":24,"j":29,"c":0.71},{"i":24,"j":30,"c":0.62},{"i":24,"j":31,"c":0.53},{"i":24,"j":32,"c":0.46},{"i":24,"j":33,"c":0.38},{"i":24,"j":34,"c":0.32},{"i":24,"j":35,"c":0.27},{"i":24,"j":36,"c":0.23},{"i":24,"j":37,"c":0.19},{"i":24,"j":38,"c":0.16},{"i":24,"j":39,"c":0.14},{"i":24,"j":40,"c":0.12},
{"i":25,"j":1,"c":-0.15},{"i":25,"j":2,"c":-0.24},{"i":25,"j":3,"c":-0.32},{"i":25,"j":4,"c":-0.41},{"i":25,"j":5,"c":-0.51},{"i":25,"j":6,"c":-0.53},{"i":25,"j":7,"c":-0.55},{"i":25,"j":8,"c":-0.57},{"i":25,"j":9,"c":-0.58},{"i":25,"j":10,"c":-0.57},{"i":25,"j":11,"c":-0.56},{"i":25,"j":12,"c":-0.54},{"i":25,"j":13,"c":-0.51},{"i":25,"j":14,"c":-0.49},{"i":25,"j":15,"c":-0.47},{"i":25,"j":16,"c":-0.46},{"i":25,"j":17,"c":-0.45},{"i":25,"j":18,"c":-0.45},{"i":25,"j":19,"c":-0.38},{"i":25,"j":20,"c":-0.15},{"i":25,"j":21,"c":0.75},{"i":25,"j":22,"c":0.86},{"i":25,"j":23,"c":0.94},{"i":25,"j":24,"c":0.98},{"i":25,"j":25,"c":1},{"i":25,"j":26,"c":0.98},{"i":25,"j":27,"c":0.95},{"i":25,"j":28,"c":0.88},{"i":25,"j":29,"c":0.80},{"i":25,"j":30,"c":0.72},{"i":25,"j":31,"c":0.63},{"i":25,"j":32,"c":0.55},{"i":25,"j":33,"c":0.47},{"i":25,"j":34,"c":0.39},{"i":25,"j":35,"c":0.33},{"i":25,"j":36,"c":0.27},{"i":25,"j":37,"c":0.23},{"i":25,"j":38,"c":0.19},{"i":25,"j":39,"c":0.15},{"i":25,"j":40,"c":0.12},
{"i":26,"j":1,"c":-0.15},{"i":26,"j":2,"c":-0.24},{"i":26,"j":3,"c":-0.32},{"i":26,"j":4,"c":-0.41},{"i":26,"j":5,"c":-0.51},{"i":26,"j":6,"c":-0.54},{"i":26,"j":7,"c":-0.57},{"i":26,"j":8,"c":-0.60},{"i":26,"j":9,"c":-0.62},{"i":26,"j":10,"c":-0.63},{"i":26,"j":11,"c":-0.61},{"i":26,"j":12,"c":-0.59},{"i":26,"j":13,"c":-0.56},{"i":26,"j":14,"c":-0.53},{"i":26,"j":15,"c":-0.50},{"i":26,"j":16,"c":-0.48},{"i":26,"j":17,"c":-0.47},{"i":26,"j":18,"c":-0.45},{"i":26,"j":19,"c":-0.38},{"i":26,"j":20,"c":-0.15},{"i":26,"j":21,"c":0.65},{"i":26,"j":22,"c":0.77},{"i":26,"j":23,"c":0.87},{"i":26,"j":24,"c":0.94},{"i":26,"j":25,"c":0.98},{"i":26,"j":26,"c":1},{"i":26,"j":27,"c":0.99},{"i":26,"j":28,"c":0.95},{"i":26,"j":29,"c":0.88},{"i":26,"j":30,"c":0.81},{"i":26,"j":31,"c":0.73},{"i":26,"j":32,"c":0.64},{"i":26,"j":33,"c":0.55},{"i":26,"j":34,"c":0.47},{"i":26,"j":35,"c":0.40},{"i":26,"j":36,"c":0.33},{"i":26,"j":37,"c":0.27},{"i":26,"j":38,"c":0.22},{"i":26,"j":39,"c":0.18},{"i":26,"j":40,"c":0.12},
{"i":27,"j":1,"c":-0.15},{"i":27,"j":2,"c":-0.23},{"i":27,"j":3,"c":-0.32},{"i":27,"j":4,"c":-0.41},{"i":27,"j":5,"c":-0.50},{"i":27,"j":6,"c":-0.54},{"i":27,"j":7,"c":-0.58},{"i":27,"j":8,"c":-0.62},{"i":27,"j":9,"c":-0.66},{"i":27,"j":10,"c":-0.68},{"i":27,"j":11,"c":-0.68},{"i":27,"j":12,"c":-0.66},{"i":27,"j":13,"c":-0.63},{"i":27,"j":14,"c":-0.58},{"i":27,"j":15,"c":-0.54},{"i":27,"j":16,"c":-0.51},{"i":27,"j":17,"c":-0.48},{"i":27,"j":18,"c":-0.47},{"i":27,"j":19,"c":-0.38},{"i":27,"j":20,"c":-0.15},{"i":27,"j":21,"c":0.56},{"i":27,"j":22,"c":0.68},{"i":27,"j":23,"c":0.78},{"i":27,"j":24,"c":0.87},{"i":27,"j":25,"c":0.95},{"i":27,"j":26,"c":0.99},{"i":27,"j":27,"c":1},{"i":27,"j":28,"c":0.99},{"i":27,"j":29,"c":0.95},{"i":27,"j":30,"c":0.89},{"i":27,"j":31,"c":0.82},{"i":27,"j":32,"c":0.74},{"i":27,"j":33,"c":0.65},{"i":27,"j":34,"c":0.56},{"i":27,"j":35,"c":0.47},{"i":27,"j":36,"c":0.39},{"i":27,"j":37,"c":0.32},{"i":27,"j":38,"c":0.26},{"i":27,"j":39,"c":0.21},{"i":27,"j":40,"c":0.12},
{"i":28,"j":1,"c":-0.15},{"i":28,"j":2,"c":-0.23},{"i":28,"j":3,"c":-0.31},{"i":28,"j":4,"c":-0.40},{"i":28,"j":5,"c":-0.50},{"i":28,"j":6,"c":-0.53},{"i":28,"j":7,"c":-0.57},{"i":28,"j":8,"c":-0.63},{"i":28,"j":9,"c":-0.68},{"i":28,"j":10,"c":-0.72},{"i":28,"j":11,"c":-0.74},{"i":28,"j":12,"c":-0.74},{"i":28,"j":13,"c":-0.71},{"i":28,"j":14,"c":-0.66},{"i":28,"j":15,"c":-0.60},{"i":28,"j":16,"c":-0.55},{"i":28,"j":17,"c":-0.51},{"i":28,"j":18,"c":-0.49},{"i":28,"j":19,"c":-0.40},{"i":28,"j":20,"c":-0.15},{"i":28,"j":21,"c":0.47},{"i":28,"j":22,"c":0.59},{"i":28,"j":23,"c":0.69},{"i":28,"j":24,"c":0.79},{"i":28,"j":25,"c":0.88},{"i":28,"j":26,"c":0.95},{"i":28,"j":27,"c":0.99},{"i":28,"j":28,"c":1},{"i":28,"j":29,"c":0.99},{"i":28,"j":30,"c":0.96},{"i":28,"j":31,"c":0.89},{"i":28,"j":32,"c":0.82},{"i":28,"j":33,"c":0.74},{"i":28,"j":34,"c":0.65},{"i":28,"j":35,"c":0.56},{"i":28,"j":36,"c":0.47},{"i":28,"j":37,"c":0.38},{"i":28,"j":38,"c":0.31},{"i":28,"j":39,"c":0.25},{"i":28,"j":40,"c":0.12},
{"i":29,"j":1,"c":-0.15},{"i":29,"j":2,"c":-0.23},{"i":29,"j":3,"c":-0.31},{"i":29,"j":4,"c":-0.39},{"i":29,"j":5,"c":-0.48},{"i":29,"j":6,"c":-0.51},{"i":29,"j":7,"c":-0.56},{"i":29,"j":8,"c":-0.61},{"i":29,"j":9,"c":-0.68},{"i":29,"j":10,"c":-0.74},{"i":29,"j":11,"c":-0.79},{"i":29,"j":12,"c":-0.81},{"i":29,"j":13,"c":-0.79},{"i":29,"j":14,"c":-0.75},{"i":29,"j":15,"c":-0.69},{"i":29,"j":16,"c":-0.62},{"i":29,"j":17,"c":-0.56},{"i":29,"j":18,"c":-0.52},{"i":29,"j":19,"c":-0.42},{"i":29,"j":20,"c":-0.15},{"i":29,"j":21,"c":0.40},{"i":29,"j":22,"c":0.50},{"i":29,"j":23,"c":0.60},{"i":29,"j":24,"c":0.71},{"i":29,"j":25,"c":0.80},{"i":29,"j":26,"c":0.88},{"i":29,"j":27,"c":0.95},{"i":29,"j":28,"c":0.99},{"i":29,"j":29,"c":1},{"i":29,"j":30,"c":0.99},{"i":29,"j":31,"c":0.96},{"i":29,"j":32,"c":0.89},{"i":29,"j":33,"c":0.82},{"i":29,"j":34,"c":0.74},{"i":29,"j":35,"c":0.64},{"i":29,"j":36,"c":0.55},{"i":29,"j":37,"c":0.46},{"i":29,"j":38,"c":0.37},{"i":29,"j":39,"c":0.30},{"i":29,"j":40,"c":0.12},
{"i":30,"j":1,"c":-0.15},{"i":30,"j":2,"c":-0.23},{"i":30,"j":3,"c":-0.30},{"i":30,"j":4,"c":-0.39},{"i":30,"j":5,"c":-0.47},{"i":30,"j":6,"c":-0.50},{"i":30,"j":7,"c":-0.54},{"i":30,"j":8,"c":-0.59},{"i":30,"j":9,"c":-0.66},{"i":30,"j":10,"c":-0.74},{"i":30,"j":11,"c":-0.81},{"i":30,"j":12,"c":-0.85},{"i":30,"j":13,"c":-0.86},{"i":30,"j":14,"c":-0.84},{"i":30,"j":15,"c":-0.78},{"i":30,"j":16,"c":-0.70},{"i":30,"j":17,"c":-0.63},{"i":30,"j":18,"c":-0.57},{"i":30,"j":19,"c":-0.44},{"i":30,"j":20,"c":-0.15},{"i":30,"j":21,"c":0.33},{"i":30,"j":22,"c":0.42},{"i":30,"j":23,"c":0.51},{"i":30,"j":24,"c":0.62},{"i":30,"j":25,"c":0.72},{"i":30,"j":26,"c":0.81},{"i":30,"j":27,"c":0.89},{"i":30,"j":28,"c":0.96},{"i":30,"j":29,"c":0.99},{"i":30,"j":30,"c":1},{"i":30,"j":31,"c":0.99},{"i":30,"j":32,"c":0.96},{"i":30,"j":33,"c":0.89},{"i":30,"j":34,"c":0.82},{"i":30,"j":35,"c":0.73},{"i":30,"j":36,"c":0.63},{"i":30,"j":37,"c":0.53},{"i":30,"j":38,"c":0.44},{"i":30,"j":39,"c":0.35},{"i":30,"j":40,"c":0.12},
{"i":31,"j":1,"c":-0.15},{"i":31,"j":2,"c":-0.23},{"i":31,"j":3,"c":-0.30},{"i":31,"j":4,"c":-0.38},{"i":31,"j":5,"c":-0.47},{"i":31,"j":6,"c":-0.48},{"i":31,"j":7,"c":-0.51},{"i":31,"j":8,"c":-0.56},{"i":31,"j":9,"c":-0.63},{"i":31,"j":10,"c":-0.71},{"i":31,"j":11,"c":-0.79},{"i":31,"j":12,"c":-0.86},{"i":31,"j":13,"c":-0.90},{"i":31,"j":14,"c":-0.90},{"i":31,"j":15,"c":-0.87},{"i":31,"j":16,"c":-0.79},{"i":31,"j":17,"c":-0.71},{"i":31,"j":18,"c":-0.63},{"i":31,"j":19,"c":-0.48},{"i":31,"j":20,"c":-0.15},{"i":31,"j":21,"c":0.28},{"i":31,"j":22,"c":0.35},{"i":31,"j":23,"c":0.44},{"i":31,"j":24,"c":0.53},{"i":31,"j":25,"c":0.63},{"i":31,"j":26,"c":0.73},{"i":31,"j":27,"c":0.82},{"i":31,"j":28,"c":0.89},{"i":31,"j":29,"c":0.96},{"i":31,"j":30,"c":0.99},{"i":31,"j":31,"c":1},{"i":31,"j":32,"c":0.99},{"i":31,"j":33,"c":0.96},{"i":31,"j":34,"c":0.89},{"i":31,"j":35,"c":0.81},{"i":31,"j":36,"c":0.72},{"i":31,"j":37,"c":0.62},{"i":31,"j":38,"c":0.51},{"i":31,"j":39,"c":0.42},{"i":31,"j":40,"c":0.12},
{"i":32,"j":1,"c":-0.15},{"i":32,"j":2,"c":-0.23},{"i":32,"j":3,"c":-0.30},{"i":32,"j":4,"c":-0.38},{"i":32,"j":5,"c":-0.46},{"i":32,"j":6,"c":-0.47},{"i":32,"j":7,"c":-0.49},{"i":32,"j":8,"c":-0.53},{"i":32,"j":9,"c":-0.58},{"i":32,"j":10,"c":-0.66},{"i":32,"j":11,"c":-0.75},{"i":32,"j":12,"c":-0.84},{"i":32,"j":13,"c":-0.90},{"i":32,"j":14,"c":-0.92},{"i":32,"j":15,"c":-0.92},{"i":32,"j":16,"c":-0.88},{"i":32,"j":17,"c":-0.79},{"i":32,"j":18,"c":-0.70},{"i":32,"j":19,"c":-0.53},{"i":32,"j":20,"c":-0.15},{"i":32,"j":21,"c":0.24},{"i":32,"j":22,"c":0.30},{"i":32,"j":23,"c":0.37},{"i":32,"j":24,"c":0.46},{"i":32,"j":25,"c":0.55},{"i":32,"j":26,"c":0.64},{"i":32,"j":27,"c":0.74},{"i":32,"j":28,"c":0.82},{"i":32,"j":29,"c":0.89},{"i":32,"j":30,"c":0.96},{"i":32,"j":31,"c":0.99},{"i":32,"j":32,"c":1},{"i":32,"j":33,"c":0.99},{"i":32,"j":34,"c":0.95},{"i":32,"j":35,"c":0.88},{"i":32,"j":36,"c":0.80},{"i":32,"j":37,"c":0.71},{"i":32,"j":38,"c":0.60},{"i":32,"j":39,"c":0.50},{"i":32,"j":40,"c":0.12},
{"i":33,"j":1,"c":-0.15},{"i":33,"j":2,"c":-0.23},{"i":33,"j":3,"c":-0.30},{"i":33,"j":4,"c":-0.38},{"i":33,"j":5,"c":-0.45},{"i":33,"j":6,"c":-0.46},{"i":33,"j":7,"c":-0.47},{"i":33,"j":8,"c":-0.50},{"i":33,"j":9,"c":-0.54},{"i":33,"j":10,"c":-0.60},{"i":33,"j":11,"c":-0.69},{"i":33,"j":12,"c":-0.78},{"i":33,"j":13,"c":-0.87},{"i":33,"j":14,"c":-0.92},{"i":33,"j":15,"c":-0.92},{"i":33,"j":16,"c":-0.92},{"i":33,"j":17,"c":-0.87},{"i":33,"j":18,"c":-0.78},{"i":33,"j":19,"c":-0.59},{"i":33,"j":20,"c":-0.15},{"i":33,"j":21,"c":0.20},{"i":33,"j":22,"c":0.25},{"i":33,"j":23,"c":0.31},{"i":33,"j":24,"c":0.38},{"i":33,"j":25,"c":0.47},{"i":33,"j":26,"c":0.55},{"i":33,"j":27,"c":0.65},{"i":33,"j":28,"c":0.74},{"i":33,"j":29,"c":0.82},{"i":33,"j":30,"c":0.89},{"i":33,"j":31,"c":0.96},{"i":33,"j":32,"c":0.99},{"i":33,"j":33,"c":1},{"i":33,"j":34,"c":0.99},{"i":33,"j":35,"c":0.95},{"i":33,"j":36,"c":0.88},{"i":33,"j":37,"c":0.79},{"i":33,"j":38,"c":0.69},{"i":33,"j":39,"c":0.59},{"i":33,"j":40,"c":0.12},
{"i":34,"j":1,"c":-0.15},{"i":34,"j":2,"c":-0.23},{"i":34,"j":3,"c":-0.30},{"i":34,"j":4,"c":-0.38},{"i":34,"j":5,"c":-0.45},{"i":34,"j":6,"c":-0.46},{"i":34,"j":7,"c":-0.46},{"i":34,"j":8,"c":-0.48},{"i":34,"j":9,"c":-0.51},{"i":34,"j":10,"c":-0.55},{"i":34,"j":11,"c":-0.62},{"i":34,"j":12,"c":-0.70},{"i":34,"j":13,"c":-0.79},{"i":34,"j":14,"c":-0.88},{"i":34,"j":15,"c":-0.92},{"i":34,"j":16,"c":-0.92},{"i":34,"j":17,"c":-0.90},{"i":34,"j":18,"c":-0.84},{"i":34,"j":19,"c":-0.64},{"i":34,"j":20,"c":-0.15},{"i":34,"j":21,"c":0.17},{"i":34,"j":22,"c":0.21},{"i":34,"j":23,"c":0.26},{"i":34,"j":24,"c":0.32},{"i":34,"j":25,"c":0.39},{"i":34,"j":26,"c":0.47},{"i":34,"j":27,"c":0.56},{"i":34,"j":28,"c":0.65},{"i":34,"j":29,"c":0.74},{"i":34,"j":30,"c":0.82},{"i":34,"j":31,"c":0.89},{"i":34,"j":32,"c":0.95},{"i":34,"j":33,"c":0.99},{"i":34,"j":34,"c":1},{"i":34,"j":35,"c":0.98},{"i":34,"j":36,"c":0.95},{"i":34,"j":37,"c":0.87},{"i":34,"j":38,"c":0.78},{"i":34,"j":39,"c":0.68},{"i":34,"j":40,"c":0.12},
{"i":35,"j":1,"c":-0.15},{"i":35,"j":2,"c":-0.23},{"i":35,"j":3,"c":-0.30},{"i":35,"j":4,"c":-0.38},{"i":35,"j":5,"c":-0.45},{"i":35,"j":6,"c":-0.45},{"i":35,"j":7,"c":-0.46},{"i":35,"j":8,"c":-0.47},{"i":35,"j":9,"c":-0.48},{"i":35,"j":10,"c":-0.51},{"i":35,"j":11,"c":-0.56},{"i":35,"j":12,"c":-0.63},{"i":35,"j":13,"c":-0.71},{"i":35,"j":14,"c":-0.79},{"i":35,"j":15,"c":-0.87},{"i":35,"j":16,"c":-0.90},{"i":35,"j":17,"c":-0.90},{"i":35,"j":18,"c":-0.86},{"i":35,"j":19,"c":-0.67},{"i":35,"j":20,"c":-0.15},{"i":35,"j":21,"c":0.15},{"i":35,"j":22,"c":0.18},{"i":35,"j":23,"c":0.22},{"i":35,"j":24,"c":0.27},{"i":35,"j":25,"c":0.33},{"i":35,"j":26,"c":0.40},{"i":35,"j":27,"c":0.47},{"i":35,"j":28,"c":0.56},{"i":35,"j":29,"c":0.64},{"i":35,"j":30,"c":0.73},{"i":35,"j":31,"c":0.81},{"i":35,"j":32,"c":0.88},{"i":35,"j":33,"c":0.95},{"i":35,"j":34,"c":0.98},{"i":35,"j":35,"c":1},{"i":35,"j":36,"c":0.98},{"i":35,"j":37,"c":0.94},{"i":35,"j":38,"c":0.87},{"i":35,"j":39,"c":0.77},{"i":35,"j":40,"c":0.12},
{"i":36,"j":1,"c":-0.15},{"i":36,"j":2,"c":-0.23},{"i":36,"j":3,"c":-0.30},{"i":36,"j":4,"c":-0.38},{"i":36,"j":5,"c":-0.45},{"i":36,"j":6,"c":-0.45},{"i":36,"j":7,"c":-0.45},{"i":36,"j":8,"c":-0.46},{"i":36,"j":9,"c":-0.47},{"i":36,"j":10,"c":-0.49},{"i":36,"j":11,"c":-0.52},{"i":36,"j":12,"c":-0.57},{"i":36,"j":13,"c":-0.63},{"i":36,"j":14,"c":-0.70},{"i":36,"j":15,"c":-0.78},{"i":36,"j":16,"c":-0.84},{"i":36,"j":17,"c":-0.86},{"i":36,"j":18,"c":-0.85},{"i":36,"j":19,"c":-0.69},{"i":36,"j":20,"c":-0.15},{"i":36,"j":21,"c":0.14},{"i":36,"j":22,"c":0.15},{"i":36,"j":23,"c":0.18},{"i":36,"j":24,"c":0.23},{"i":36,"j":25,"c":0.27},{"i":36,"j":26,"c":0.33},{"i":36,"j":27,"c":0.39},{"i":36,"j":28,"c":0.47},{"i":36,"j":29,"c":0.55},{"i":36,"j":30,"c":0.63},{"i":36,"j":31,"c":0.72},{"i":36,"j":32,"c":0.80},{"i":36,"j":33,"c":0.88},{"i":36,"j":34,"c":0.95},{"i":36,"j":35,"c":0.98},{"i":36,"j":36,"c":1},{"i":36,"j":37,"c":0.98},{"i":36,"j":38,"c":0.94},{"i":36,"j":39,"c":0.86},{"i":36,"j":40,"c":0.12},
{"i":37,"j":1,"c":-0.15},{"i":37,"j":2,"c":-0.23},{"i":37,"j":3,"c":-0.30},{"i":37,"j":4,"c":-0.38},{"i":37,"j":5,"c":-0.45},{"i":37,"j":6,"c":-0.45},{"i":37,"j":7,"c":-0.45},{"i":37,"j":8,"c":-0.45},{"i":37,"j":9,"c":-0.46},{"i":37,"j":10,"c":-0.47},{"i":37,"j":11,"c":-0.49},{"i":37,"j":12,"c":-0.52},{"i":37,"j":13,"c":-0.56},{"i":37,"j":14,"c":-0.62},{"i":37,"j":15,"c":-0.69},{"i":37,"j":16,"c":-0.75},{"i":37,"j":17,"c":-0.79},{"i":37,"j":18,"c":-0.81},{"i":37,"j":19,"c":-0.67},{"i":37,"j":20,"c":-0.12},{"i":37,"j":21,"c":0.13},{"i":37,"j":22,"c":0.14},{"i":37,"j":23,"c":0.16},{"i":37,"j":24,"c":0.19},{"i":37,"j":25,"c":0.23},{"i":37,"j":26,"c":0.27},{"i":37,"j":27,"c":0.32},{"i":37,"j":28,"c":0.38},{"i":37,"j":29,"c":0.46},{"i":37,"j":30,"c":0.53},{"i":37,"j":31,"c":0.62},{"i":37,"j":32,"c":0.71},{"i":37,"j":33,"c":0.79},{"i":37,"j":34,"c":0.87},{"i":37,"j":35,"c":0.94},{"i":37,"j":36,"c":0.98},{"i":37,"j":37,"c":1},{"i":37,"j":38,"c":0.98},{"i":37,"j":39,"c":0.93},{"i":37,"j":40,"c":0.12},
{"i":38,"j":1,"c":-0.15},{"i":38,"j":2,"c":-0.23},{"i":38,"j":3,"c":-0.30},{"i":38,"j":4,"c":-0.38},{"i":38,"j":5,"c":-0.45},{"i":38,"j":6,"c":-0.45},{"i":38,"j":7,"c":-0.45},{"i":38,"j":8,"c":-0.45},{"i":38,"j":9,"c":-0.45},{"i":38,"j":10,"c":-0.46},{"i":38,"j":11,"c":-0.47},{"i":38,"j":12,"c":-0.49},{"i":38,"j":13,"c":-0.51},{"i":38,"j":14,"c":-0.55},{"i":38,"j":15,"c":-0.60},{"i":38,"j":16,"c":-0.66},{"i":38,"j":17,"c":-0.71},{"i":38,"j":18,"c":-0.74},{"i":38,"j":19,"c":-0.63},{"i":38,"j":20,"c":-0.12},{"i":38,"j":21,"c":0.12},{"i":38,"j":22,"c":0.13},{"i":38,"j":23,"c":0.14},{"i":38,"j":24,"c":0.16},{"i":38,"j":25,"c":0.19},{"i":38,"j":26,"c":0.22},{"i":38,"j":27,"c":0.26},{"i":38,"j":28,"c":0.31},{"i":38,"j":29,"c":0.37},{"i":38,"j":30,"c":0.44},{"i":38,"j":31,"c":0.51},{"i":38,"j":32,"c":0.60},{"i":38,"j":33,"c":0.69},{"i":38,"j":34,"c":0.78},{"i":38,"j":35,"c":0.87},{"i":38,"j":36,"c":0.94},{"i":38,"j":37,"c":0.98},{"i":38,"j":38,"c":1},{"i":38,"j":39,"c":0.98},{"i":38,"j":40,"c":0.12},
{"i":39,"j":1,"c":-0.11},{"i":39,"j":2,"c":-0.16},{"i":39,"j":3,"c":-0.21},{"i":39,"j":4,"c":-0.27},{"i":39,"j":5,"c":-0.32},{"i":39,"j":6,"c":-0.32},{"i":39,"j":7,"c":-0.32},{"i":39,"j":8,"c":-0.32},{"i":39,"j":9,"c":-0.32},{"i":39,"j":10,"c":-0.32},{"i":39,"j":11,"c":-0.32},{"i":39,"j":12,"c":-0.33},{"i":39,"j":13,"c":-0.34},{"i":39,"j":14,"c":-0.36},{"i":39,"j":15,"c":-0.38},{"i":39,"j":16,"c":-0.41},{"i":39,"j":17,"c":-0.44},{"i":39,"j":18,"c":-0.46},{"i":39,"j":19,"c":-0.41},{"i":39,"j":20,"c":-0.12},{"i":39,"j":21,"c":0.11},{"i":39,"j":22,"c":0.12},{"i":39,"j":23,"c":0.13},{"i":39,"j":24,"c":0.14},{"i":39,"j":25,"c":0.15},{"i":39,"j":26,"c":0.18},{"i":39,"j":27,"c":0.21},{"i":39,"j":28,"c":0.25},{"i":39,"j":29,"c":0.30},{"i":39,"j":30,"c":0.35},{"i":39,"j":31,"c":0.42},{"i":39,"j":32,"c":0.50},{"i":39,"j":33,"c":0.59},{"i":39,"j":34,"c":0.68},{"i":39,"j":35,"c":0.77},{"i":39,"j":36,"c":0.86},{"i":39,"j":37,"c":0.93},{"i":39,"j":38,"c":0.98},{"i":39,"j":39,"c":1},{"i":39,"j":40,"c":0.15},
{"i":40,"j":1,"c":0.05},{"i":40,"j":2,"c":0.05},{"i":40,"j":3,"c":0.05},{"i":40,"j":4,"c":0.05},{"i":40,"j":5,"c":0.05},{"i":40,"j":6,"c":0.05},{"i":40,"j":7,"c":0.05},{"i":40,"j":8,"c":0.05},{"i":40,"j":9,"c":0.05},{"i":40,"j":10,"c":0.05},{"i":40,"j":11,"c":0.05},{"i":40,"j":12,"c":0.05},{"i":40,"j":13,"c":0.05},{"i":40,"j":14,"c":0.05},{"i":40,"j":15,"c":0.05},{"i":40,"j":16,"c":0.05},{"i":40,"j":17,"c":0.05},{"i":40,"j":18,"c":0.05},{"i":40,"j":19,"c":0.05},{"i":40,"j":20,"c":0.05},{"i":40,"j":21,"c":0.12},{"i":40,"j":22,"c":0.12},{"i":40,"j":23,"c":0.12},{"i":40,"j":24,"c":0.12},{"i":40,"j":25,"c":0.12},{"i":40,"j":26,"c":0.12},{"i":40,"j":27,"c":0.12},{"i":40,"j":28,"c":0.12},{"i":40,"j":29,"c":0.12},{"i":40,"j":30,"c":0.12},{"i":40,"j":31,"c":0.12},{"i":40,"j":32,"c":0.12},{"i":40,"j":33,"c":0.12},{"i":40,"j":34,"c":0.12},{"i":40,"j":35,"c":0.12},{"i":40,"j":36,"c":0.12},{"i":40,"j":37,"c":0.12},{"i":40,"j":38,"c":0.12},{"i":40,"j":39,"c":0.15},{"i":40,"j":40,"c":1}
]},
"hconcat":[
{"width":239,"height":186,
 "title":{"text":"Est. standard deviations at 10 yr","frame":"group","anchor":"middle","offset":-7,"baseline":"alphabetic","dx":-4},
 "data":{"name":"sd"},
 "layer":[
  {"mark":{"type":"point","shape":"M-1,-1L1,1M-1,1L1,-1","filled":false,"size":60,"strokeWidth":1.5,"color":"#0072BD","opacity":1},
   "encoding":{
    "x":{"field":"x","type":"quantitative","scale":{"domain":[0,1200],"nice":false},"axis":{"values":[0,500,1000],"format":"d","title":null,"labelFlush":false,"domainColor":"#777777","tickColor":"#555555","labelColor":"#262626","labelPadding":8}},
    "y":{"field":"h","type":"quantitative","scale":{"domain":[0,100],"nice":false},"axis":{"orient":"left","values":[0,50,100],"title":"SD h (blue x, in m)","domainColor":"#5a9fd4","tickColor":"#0072BD","labelColor":"#0072BD","titleColor":"#0072BD","titleX":-39,"titleY":101,"titleAngle":270,"titleAlign":"center","titleBaseline":"middle"}}
   }},
  {"mark":{"type":"point","shape":"M-1,0L1,0M0,-1L0,1","filled":false,"size":70,"strokeWidth":1.5,"color":"#D95319","opacity":1},
   "encoding":{
    "x":{"field":"x","type":"quantitative"},
    "y":{"field":"r","type":"quantitative","scale":{"domain":[0,75.4],"nice":false},"axis":{"orient":"right","values":[0,50],"title":"SD r (orange +, in km)","domainColor":"#c8806a","tickColor":"#D95319","labelColor":"#D95319","titleColor":"#D95319","titleX":35,"titleY":101,"titleAngle":270,"titleAlign":"center","titleBaseline":"middle"}}
   }}
 ],
 "resolve":{"scale":{"y":"independent"},"axis":{"y":"independent"}}
},
{"width":188,"height":188,
 "title":{"text":"Est. [corr]ᵢ,ⱼ  at t = 10 yr","frame":"group","anchor":"middle","offset":-2,"baseline":"alphabetic","dx":4},
 "data":{"name":"corr"},
 "layer":[
  {"mark":{"type":"rect","width":{"band":1.08},"height":{"band":1.08}},
   "encoding":{
    "x":{"field":"j","type":"ordinal","scale":{"paddingInner":0,"paddingOuter":0},"axis":{"orient":"bottom","values":[10,20,30,40],"title":null,"labelAngle":0,"labelPadding":8.5,"domainColor":"#444444","tickColor":"#333333","labelColor":"#262626","zindex":1}},
    "y":{"field":"i","type":"ordinal","scale":{"paddingInner":0,"paddingOuter":0},"axis":{"orient":"left","values":[10,20,30,40],"title":"Index i","titleColor":"#262626","titleX":-32,"titleY":94,"titleAngle":270,"titleAlign":"center","titleBaseline":"middle","domainColor":"#444444","tickColor":"#333333","labelColor":"#262626","zindex":1}},
    "color":{"field":"c","type":"quantitative","scale":{"domain":[-1,-0.873,-0.746,-0.619,-0.492,-0.365,-0.238,-0.111,0.016,0.143,0.27,0.397,0.524,0.651,0.778,0.905,1],"range":["#3e26a8","#4537d5","#484df0","#4563fd","#327cfc","#2b91ef","#20a5e3","#08b5d0","#19bfb6","#37c897","#64cd6f","#9dc943","#d1bf27","#f8ba3d","#fccf30","#f5e924","#f9fb15"],"interpolate":"rgb"},"legend":{"type":"gradient","orient":"right","offset":2,"title":null,"direction":"vertical","gradientLength":188,"gradientThickness":16,"labelExpr":"''","labelOffset":0,"padding":0,"gradientStrokeColor":"#444444","gradientStrokeWidth":1}}
   }},
  {"mark":{"type":"rect","opacity":0},
   "encoding":{
    "x":{"field":"j","type":"ordinal","axis":{"orient":"top","values":[10,20,30,40],"title":null,"labels":false,"domainColor":"#444444","tickColor":"#333333","zindex":1}},
    "y":{"field":"i","type":"ordinal","axis":{"orient":"right","values":[10,20,30,40],"title":null,"labels":false,"domainColor":"#444444","tickColor":"#333333","zindex":1}}
   }}
 ],
 "resolve":{"axis":{"x":"independent","y":"independent"}}
}
]
}
